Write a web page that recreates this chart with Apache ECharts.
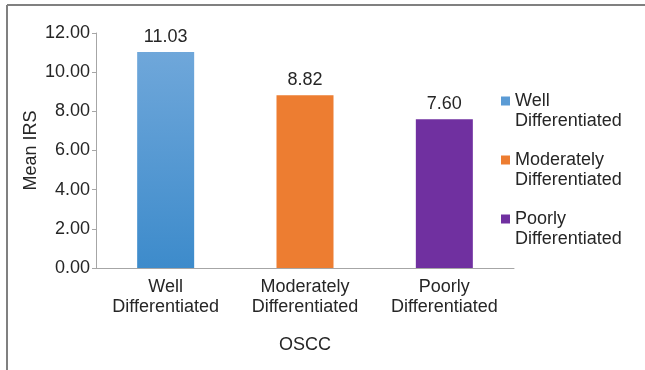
<!DOCTYPE html>
<html><head><meta charset="utf-8">
<script src="https://cdn.jsdelivr.net/npm/echarts@6/dist/echarts.min.js"></script>
<style>html,body{margin:0;padding:0;background:#fff}#c{width:645px;height:370px}</style>
</head><body><div id="c"></div>
<script>
const categories = ['Well\nDifferentiated', 'Moderately\nDifferentiated', 'Poorly\nDifferentiated'];
const seriesNames = ['Well Differentiated', 'Moderately Differentiated', 'Poorly Differentiated'];
const values = [11.03, 8.82, 7.60];
const yTicks = { min: 0, max: 12, interval: 2 };

const colors = [
  new echarts.graphic.LinearGradient(0, 0, 0, 1, [{offset: 0, color: '#6fa7da'}, {offset: 1, color: '#3d8bcb'}]),
  '#ed7d31',
  '#7030a0'
];
const legendColors = ['#5b9bd5', '#ed7d31', '#7030a0'];
const font = 'Liberation Sans, Arial, sans-serif';
const txt = '#262626';
const fs = 18;

const series = seriesNames.map((name, i) => ({
  name: name,
  type: 'bar',
  barWidth: 57,
  barGap: '-100%',
  data: values.map((v, j) => j === i ? v : null),
  itemStyle: { color: colors[i] },
  label: {
    show: true, position: 'top', distance: 6,
    formatter: p => p.value.toFixed(2),
    color: txt, fontSize: fs, fontFamily: font
  }
}));

const chart = echarts.init(document.getElementById('c'), null, { renderer: 'canvas' });
chart.setOption({
  animation: false,
  grid: { left: 96, right: 131, top: 33, bottom: 102, containLabel: false },
  legend: {
    orient: 'vertical', left: 501, top: 71, itemWidth: 9, itemHeight: 9, itemGap: -1,
    icon: 'rect', padding: 0,
    data: seriesNames.map((n, i) => ({ name: n, itemStyle: { color: legendColors[i] } })),
    formatter: n => '\n' + n.replace(' ', '\n'),
    textStyle: { color: txt, fontSize: fs, fontFamily: font, lineHeight: 20 }
  },
  xAxis: {
    type: 'category', data: categories,
    name: 'OSCC', nameLocation: 'middle', nameGap: 68, nameMoveOverlap: false,
    nameTextStyle: { color: txt, fontSize: fs, fontFamily: font },
    axisLine: { lineStyle: { color: '#a6a6a6', width: 1 } },
    axisTick: { show: false },
    axisLabel: { color: txt, fontSize: fs, fontFamily: font, lineHeight: 20, margin: 9 }
  },
  yAxis: {
    type: 'value', min: yTicks.min, max: yTicks.max, interval: yTicks.interval,
    name: 'Mean IRS', nameLocation: 'middle', nameGap: 56, nameRotate: 90, nameMoveOverlap: false,
    nameTextStyle: { color: txt, fontSize: fs, fontFamily: font },
    axisLine: { show: true, lineStyle: { color: '#a6a6a6', width: 1 } },
    axisTick: { show: true, length: 4, lineStyle: { color: '#a6a6a6' } },
    splitLine: { show: false },
    axisLabel: { color: txt, fontSize: fs, fontFamily: font, margin: 6, formatter: v => v.toFixed(2) }
  },
  graphic: [
    { type: 'line', shape: { x1: 7, y1: 5, x2: 645, y2: 5 }, style: { stroke: '#808080', lineWidth: 2 } },
    { type: 'line', shape: { x1: 7, y1: 5, x2: 7, y2: 370 }, style: { stroke: '#808080', lineWidth: 2 } }
  ],
  series: series
});
</script></body></html>
